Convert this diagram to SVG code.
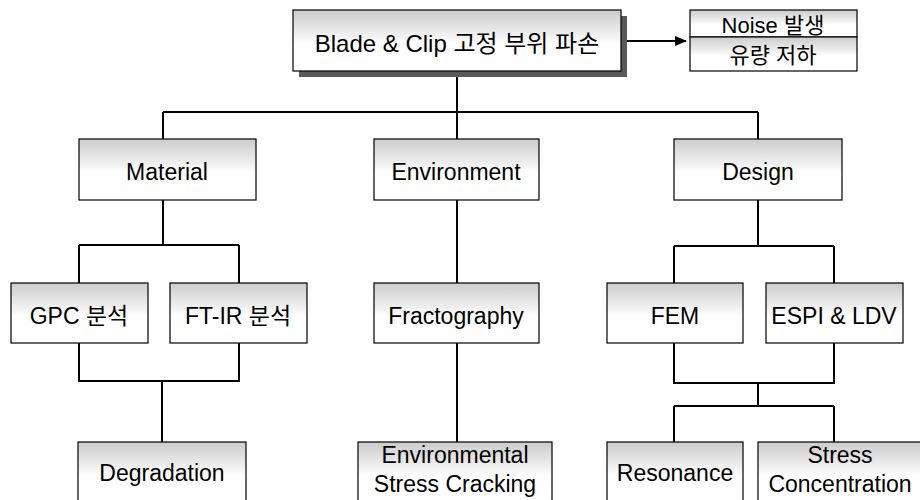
<svg xmlns="http://www.w3.org/2000/svg" width="920" height="500" viewBox="0 0 920 500">
  <defs>
    <linearGradient id="g" x1="0" y1="0" x2="0" y2="1">
      <stop offset="0" stop-color="#cccccc"/>
      <stop offset="0.4" stop-color="#efefef"/>
      <stop offset="0.55" stop-color="#ffffff"/>
    </linearGradient>
    <linearGradient id="gb" x1="0" y1="0" x2="0" y2="1">
      <stop offset="0" stop-color="#cccccc"/>
      <stop offset="0.35" stop-color="#efefef"/>
      <stop offset="0.5" stop-color="#ffffff"/>
    </linearGradient>
    <marker id="arr" markerWidth="12" markerHeight="10" refX="11" refY="5" orient="auto" markerUnits="userSpaceOnUse">
      <path d="M0,0 L12,5 L0,10 Z" fill="#000"/>
    </marker>
    <style>
      .box { fill: url(#g); stroke: #000; stroke-width: 1.2; }
      .boxb { fill: url(#gb); stroke: #000; stroke-width: 1.2; }
      .t { font-family: "Liberation Sans", "Noto Sans CJK KR", sans-serif; font-size: 23px; fill: #000; text-anchor: middle; }
      .tb { font-size: 24px; }
      .tn { font-size: 22px; }
      .c { fill: none; stroke: #000; stroke-width: 2; }
    </style>
  </defs>

  <g id="connectors">
    <path class="c" d="M627 41 H686" marker-end="url(#arr)"/>
    <path class="c" d="M457 77 V112 M163 112 H758 M163 112 V139 M457 112 V139 M758 112 V139"/>
    <path class="c" d="M163 200 V245 M79 245 H239 M79 245 V283 M239 245 V283"/>
    <path class="c" d="M79 343 V381 H239 V343 M162 381 V442"/>
    <path class="c" d="M457 200 V283 M457 343 V442"/>
    <path class="c" d="M758 200 V246 M674 246 H834 M674 246 V283 M834 246 V283"/>
    <path class="c" d="M674 343 V383 H834 V343 M758 383 V406 M674 406 H834 M674 406 V442 M834 406 V442"/>
  </g>

  <g id="blade">
    <rect x="299" y="16" width="328" height="61" fill="#5a5a5a"/>
    <rect class="box" x="293" y="10" width="328" height="61"/>
    <text class="t tb" x="457" y="52">Blade &amp; Clip 고정 부위 파손</text>
  </g>

  <g id="noise">
    <rect class="box" x="690" y="10" width="167" height="27"/>
    <rect class="box" x="690" y="37" width="167" height="34"/>
    <text class="t tn" x="773" y="33">Noise 발생</text>
    <text class="t tn" x="773" y="63">유량 저하</text>
  </g>

  <g id="material">
    <rect class="box" x="79" y="139" width="177" height="61"/>
    <text class="t" x="167" y="180">Material</text>
  </g>
  <g id="environment">
    <rect class="box" x="374" y="139" width="165" height="61"/>
    <text class="t" x="456" y="180">Environment</text>
  </g>
  <g id="design">
    <rect class="box" x="674" y="139" width="168" height="61"/>
    <text class="t" x="758" y="180">Design</text>
  </g>

  <g id="gpc">
    <rect class="box" x="11" y="283" width="137" height="60"/>
    <text class="t" x="79" y="324">GPC 분석</text>
  </g>
  <g id="ftir">
    <rect class="box" x="170" y="283" width="137" height="60"/>
    <text class="t" x="238" y="324">FT-IR 분석</text>
  </g>
  <g id="fractography">
    <rect class="box" x="374" y="283" width="165" height="60"/>
    <text class="t" x="456" y="324">Fractography</text>
  </g>
  <g id="fem">
    <rect class="box" x="607" y="283" width="136" height="60"/>
    <text class="t" x="675" y="324">FEM</text>
  </g>
  <g id="espi">
    <rect class="box" x="766" y="283" width="137" height="60"/>
    <text class="t" x="834" y="324">ESPI &amp; LDV</text>
  </g>

  <g id="degradation">
    <rect class="boxb" x="78" y="442" width="168" height="70"/>
    <text class="t" x="162" y="481">Degradation</text>
  </g>
  <g id="esc">
    <rect class="boxb" x="358" y="442" width="194" height="70"/>
    <text class="t" x="455" y="463">Environmental</text>
    <text class="t" x="455" y="492">Stress Cracking</text>
  </g>
  <g id="resonance">
    <rect class="boxb" x="607" y="442" width="136" height="70"/>
    <text class="t" x="675" y="481">Resonance</text>
  </g>
  <g id="stress">
    <rect class="boxb" x="758" y="442" width="170" height="70"/>
    <text class="t" x="840" y="463">Stress</text>
    <text class="t" x="840" y="492">Concentration</text>
  </g>
</svg>
